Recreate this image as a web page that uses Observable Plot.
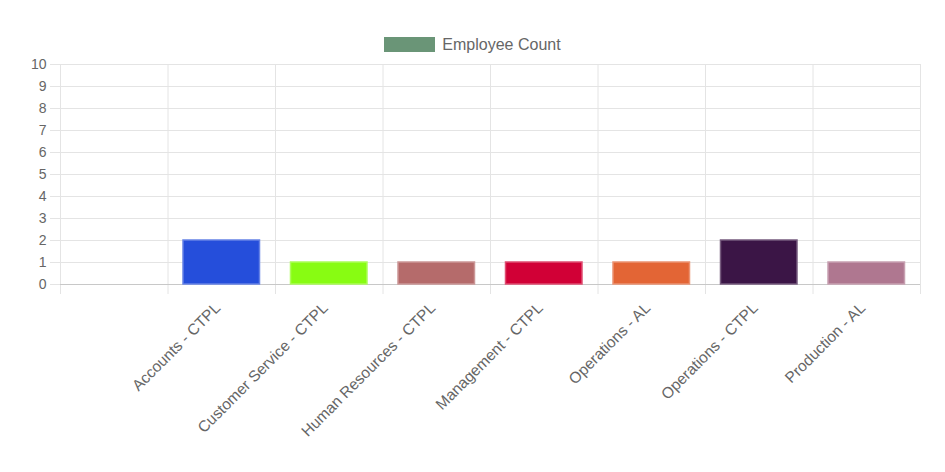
<!DOCTYPE html>
<html><head><meta charset="utf-8">
<script src="https://cdn.jsdelivr.net/npm/d3@7"></script>
<script src="https://cdn.jsdelivr.net/npm/@observablehq/plot@0.6"></script>
<style>
body{margin:0;background:#fff;font-family:"Liberation Sans",Arial,sans-serif;}
#legend{height:56px;display:flex;justify-content:center;align-items:flex-start;box-sizing:border-box;padding-top:37px;color:#666;font-size:16px;}
#legend .sw{width:51px;height:15px;margin-right:7px;}
#legend span{line-height:15px;}
</style></head>
<body>
<div id="legend"><div class="sw"></div><span></span></div>
<div id="chart"></div>
<script>
const seriesName = "Employee Count";
const legendColor = "#6a9577";
const categories = ["", "Accounts - CTPL", "Customer Service - CTPL", "Human Resources - CTPL", "Management - CTPL", "Operations - AL", "Operations - CTPL", "Production - AL"];
const values = [0, 2, 1, 1, 1, 1, 2, 1];
const colors = ["#6a9577", "#254edb", "#88fc12", "#b56b6b", "#d10036", "#e36535", "#3b1546", "#af7790"];
const yTicks = [0,1,2,3,4,5,6,7,8,9,10];

document.querySelector("#legend .sw").style.background = legendColor;
document.querySelector("#legend span").textContent = seriesName;

const data = categories.map((c,i)=>({cat:c, value:values[i], color:colors[i], border:d3.interpolateRgb(colors[i], "#fff")(0.3)}));
const W = 945, H = 416, mL = 60, mR = 25;
const bw = (W - mL - mR) / categories.length;
const grid = "#e4e4e4";

const chart = Plot.plot({
  width: W, height: H,
  marginLeft: mL, marginRight: mR, marginTop: 8, marginBottom: 188,
  style: {fontFamily: "'Liberation Sans', Arial, sans-serif", fontSize: "14px", color: "#666", background: "#fff"},
  x: {type: "band", domain: categories, paddingInner: 0, paddingOuter: 0, round: false},
  y: {domain: [0, 10]},
  marks: [
    Plot.ruleY(yTicks, {y: d=>d, stroke: grid, insetLeft: -10}),
    Plot.ruleX(categories, {x: d=>d, dx: -bw/2, y1: 10, y2: 0, stroke: grid, insetBottom: -10}),
    Plot.ruleX([categories[categories.length-1]], {x: d=>d, dx: bw/2, y1: 10, y2: 0, stroke: grid, insetBottom: -10}),
    Plot.ruleY([0], {stroke: "#c8c8c8"}),
    Plot.barY(data, {x: "cat", y: "value", fill: d=>d.color, stroke: d=>d.border, strokeWidth: 1.5, insetLeft: 15.5, insetRight: 15.5}),
    Plot.axisY(yTicks, {tickSize: 0, tickPadding: 14, fill: "#666", fontSize: 14, label: null, tickFormat: d=>String(d)}),
    Plot.axisX({tickSize: 0, tickRotate: -45, tickPadding: 21, dx: -4, fill: "#666", fontSize: 15.5, label: null})
  ]
});
document.getElementById("chart").appendChild(chart);
</script>
</body></html>
